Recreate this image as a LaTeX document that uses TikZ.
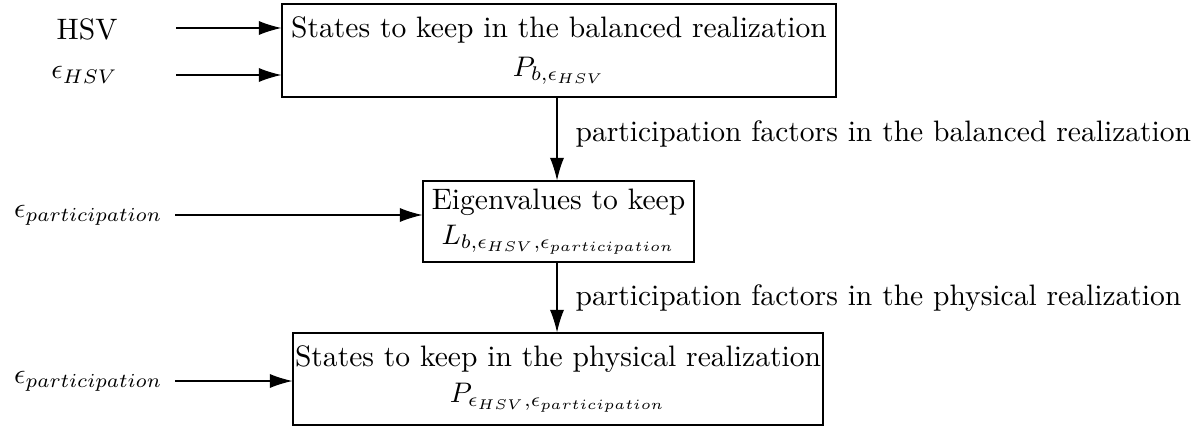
\documentclass[tikz,border=0pt]{standalone}
\usetikzlibrary{arrows.meta}
\begin{document}
\begin{tikzpicture}[x=0.3535pt,y=-0.3535pt,
  font=\fontsize{10.45}{12.6}\selectfont,
  blk/.style={draw,line width=0.4pt,align=center,inner sep=0pt},
  arr/.style={line width=0.4pt,-{Latex[length=8pt,width=5pt]}},
  lbl/.style={inner sep=0pt}]
\useasboundingbox (0,0) rectangle (1195,427);
\node[blk,minimum width={554*0.3535pt},minimum height={93*0.3535pt}] (b1) at (559,50.5)
  {States to keep in the balanced realization\\[1pt] $P_{b,\epsilon_{HSV}}$};
\node[blk,minimum width={271*0.3535pt},minimum height={81*0.3535pt}] (b2) at (558.5,221.5)
  {Eigenvalues to keep\\ $L_{b,\epsilon_{HSV},\epsilon_{participation}}$};
\node[blk,minimum width={530*0.3535pt},minimum height={92*0.3535pt}] (b3) at (558,379)
  {States to keep in the physical realization\\ $P_{\epsilon_{HSV},\epsilon_{participation}}$};
\node[lbl,anchor=east] (hsv) at (118,29) {HSV};
\node[lbl,anchor=east] (ehsv) at (118,75) {$\epsilon_{HSV}$};
\node[lbl,anchor=east] (ep1) at (163,215) {$\epsilon_{participation}$};
\node[lbl,anchor=east] (ep2) at (163,381) {$\epsilon_{participation}$};
\coordinate (s1) at (176,28);
\coordinate (s2) at (176,75);
\coordinate (s3) at (175,215);
\coordinate (s4) at (175,381);
\draw[arr] (s1) -- (s1 -| b1.west);
\draw[arr] (s2) -- (s2 -| b1.west);
\draw[arr] (s3) -- (s3 -| b2.west);
\draw[arr] (s4) -- (s4 -| b3.west);
\draw[arr] (b1.south -| 557,0) -- (b2.north -| 557,0);
\draw[arr] (b2.south -| 557,0) -- (b3.north -| 557,0);
\node[lbl,anchor=west] (l1) at (575,134) {participation factors in the balanced realization};
\node[lbl,anchor=west] (l2) at (575,298) {participation factors in the physical realization};
\end{tikzpicture}
\end{document}
